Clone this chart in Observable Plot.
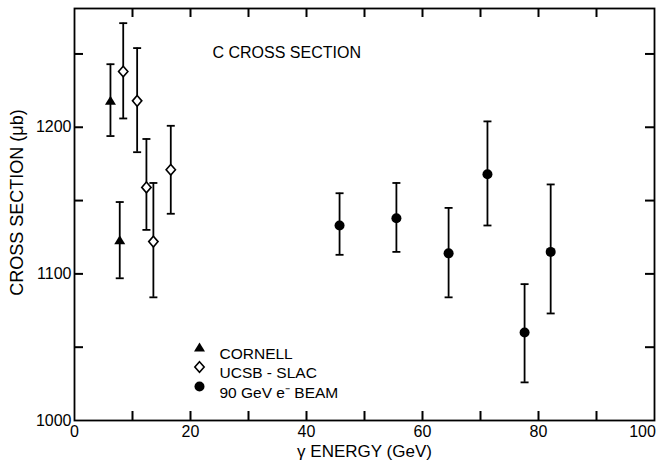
<!DOCTYPE html>
<html><head><meta charset="utf-8">
<script src="https://cdn.jsdelivr.net/npm/d3@7"></script>
<script src="https://cdn.jsdelivr.net/npm/@observablehq/plot@0.6"></script>
<style>body{margin:0;background:#fff;overflow:hidden} #chart{width:656px;height:463px}</style>
</head><body><div id="chart"></div>
<script>
// ---- data ----
const titleText = "C CROSS SECTION";
const xLabelText = "γ ENERGY (GeV)";
const yLabelText = "CROSS SECTION (μb)";
const seriesNames = ["CORNELL", "UCSB - SLAC", "90 GeV e⁻ BEAM"];

const cornellE  = [6.2, 7.8];
const cornellXS = [1218, 1123];
const cornellLo = [1194, 1097];
const cornellHi = [1243, 1149];

const ucsbE  = [8.4, 10.8, 12.4, 13.6, 16.6];
const ucsbXS = [1238, 1218, 1159, 1122, 1171];
const ucsbLo = [1206, 1183, 1130, 1084, 1141];
const ucsbHi = [1271, 1254, 1192, 1162, 1201];

const beamE  = [45.7, 55.5, 64.5, 71.2, 77.6, 82.1];
const beamXS = [1133, 1138, 1114, 1168, 1060, 1115];
const beamLo = [1113, 1115, 1084, 1133, 1026, 1073];
const beamHi = [1155, 1162, 1145, 1204, 1093, 1161];

const xDomain = [0, 100];
const yDomain = [1000, 1281];
const xTickLabels = [0, 20, 40, 60, 80];
const xTickLabelsEdge = [100];
const xTickMarks  = [10, 20, 30, 40, 50, 60, 70, 80, 90];
const yTickLabels = [1000, 1100, 1200];
const yTickMarks  = [1050, 1100, 1150, 1200, 1250];

// ---- build tables ----
const mk = (name, E, XS, Lo, Hi) => E.map((e, i) => ({series: name, e, xs: XS[i], lo: Lo[i], hi: Hi[i]}));
const cornell = mk(seriesNames[0], cornellE, cornellXS, cornellLo, cornellHi);
const ucsb = mk(seriesNames[1], ucsbE, ucsbXS, ucsbLo, ucsbHi);
const beam = mk(seriesNames[2], beamE, beamXS, beamLo, beamHi);
const all = [...cornell, ...ucsb, ...beam];

// ---- symbols ----
const triSym = {draw(c, size) { const r = Math.sqrt(size / Math.PI); c.moveTo(0, -r); c.lineTo(r * 1.1, r * 0.8); c.lineTo(-r * 1.1, r * 0.8); c.closePath(); }};
const diaSym = {draw(c, size) { const r = Math.sqrt(size / Math.PI); c.moveTo(0, -r); c.lineTo(r * 0.88, 0); c.lineTo(0, r); c.lineTo(-r * 0.88, 0); c.closePath(); }};
const capSym = {draw(c, size) { const r = Math.sqrt(size / Math.PI); c.moveTo(-r, 0); c.lineTo(r, 0); }};

const W = 656, H = 463, mL = 74, mR = 2, mT = 8, mB = 43;
const fw = W - mL - mR, fh = H - mT - mB;
const tickLen = 9;
const sw = 2;
const font = "'Liberation Sans', Arial, Helvetica, sans-serif";
// inward tick length expressed in data units of each scale
const tx = tickLen * (xDomain[1] - xDomain[0]) / fw;
const ty = tickLen * (yDomain[1] - yDomain[0]) / fh;

const legendSyms = [
  {symbol: triSym, fill: "black", stroke: "none", r: 5},
  {symbol: diaSym, fill: "white", stroke: "black", r: 5.3},
  {symbol: "circle", fill: "black", stroke: "none", r: 5}
];
const legendMarks = seriesNames.flatMap((name, i) => [
  Plot.dot([name], {frameAnchor: "top-left", dx: 125, dy: 339 + i * 19.5, symbol: legendSyms[i].symbol, r: legendSyms[i].r, fill: legendSyms[i].fill, stroke: legendSyms[i].stroke, strokeWidth: 1.6}),
  Plot.text([name], {frameAnchor: "top-left", dx: 145, dy: 339 + i * 19.5, textAnchor: "start", fontSize: 15.5, fill: "black"})
]);

const chart = Plot.plot({
  width: W, height: H,
  marginLeft: mL, marginRight: mR, marginTop: mT, marginBottom: mB,
  style: {fontFamily: font, fontSize: "16px", color: "black", background: "white"},
  x: {domain: xDomain},
  y: {domain: yDomain},
  marks: [
    Plot.frame({stroke: "black", strokeWidth: 1.8}),
    // inward tick marks on all four sides
    Plot.ruleX(xTickMarks, {x: d => d, y1: yDomain[0], y2: yDomain[0] + ty, stroke: "black", strokeWidth: sw}),
    Plot.ruleX(xTickMarks, {x: d => d, y1: yDomain[1] - ty, y2: yDomain[1], stroke: "black", strokeWidth: sw}),
    Plot.ruleY(yTickMarks, {y: d => d, x1: xDomain[0], x2: xDomain[0] + tx, stroke: "black", strokeWidth: sw}),
    Plot.ruleY(yTickMarks, {y: d => d, x1: xDomain[1] - tx, x2: xDomain[1], stroke: "black", strokeWidth: sw}),
    // tick labels
    Plot.axisX(xTickLabels, {anchor: "bottom", tickSize: 0, tickPadding: 5, label: null, fontSize: 16, tickFormat: d => String(d)}),
    Plot.axisX(xTickLabelsEdge, {anchor: "bottom", tickSize: 0, tickPadding: 5, dx: -12, label: null, fontSize: 16, tickFormat: d => String(d)}),
    Plot.axisY(yTickLabels, {anchor: "left", tickSize: 0, tickPadding: 3, label: null, fontSize: 16, tickFormat: d => String(d)}),
    // error bars
    Plot.ruleX(all, {x: "e", y1: "lo", y2: "hi", stroke: "black", strokeWidth: 1.8}),
    Plot.dot(all, {x: "e", y: "lo", symbol: capSym, r: 4, stroke: "black", strokeWidth: 1.8, fill: "none"}),
    Plot.dot(all, {x: "e", y: "hi", symbol: capSym, r: 4, stroke: "black", strokeWidth: 1.8, fill: "none"}),
    // markers
    Plot.dot(cornell, {x: "e", y: "xs", symbol: triSym, r: 5, fill: "black", stroke: "none"}),
    Plot.dot(ucsb, {x: "e", y: "xs", symbol: diaSym, r: 5.3, fill: "white", stroke: "black", strokeWidth: 1.6}),
    Plot.dot(beam, {x: "e", y: "xs", symbol: "circle", r: 5, fill: "black", stroke: "none"}),
    // title & axis labels
    Plot.text([titleText], {frameAnchor: "top-left", dx: 138, dy: 38, textAnchor: "start", fontSize: 16, fill: "black"}),
    Plot.text([xLabelText], {frameAnchor: "bottom", dy: 36, textAnchor: "middle", fontSize: 17, fill: "black"}),
    Plot.text([yLabelText], {frameAnchor: "middle", dx: -fw / 2 - 57, dy: -12, rotate: -90, textAnchor: "middle", fontSize: 18, fill: "black"}),
    ...legendMarks
  ]
});
document.getElementById("chart").append(chart);
</script>
</body></html>
